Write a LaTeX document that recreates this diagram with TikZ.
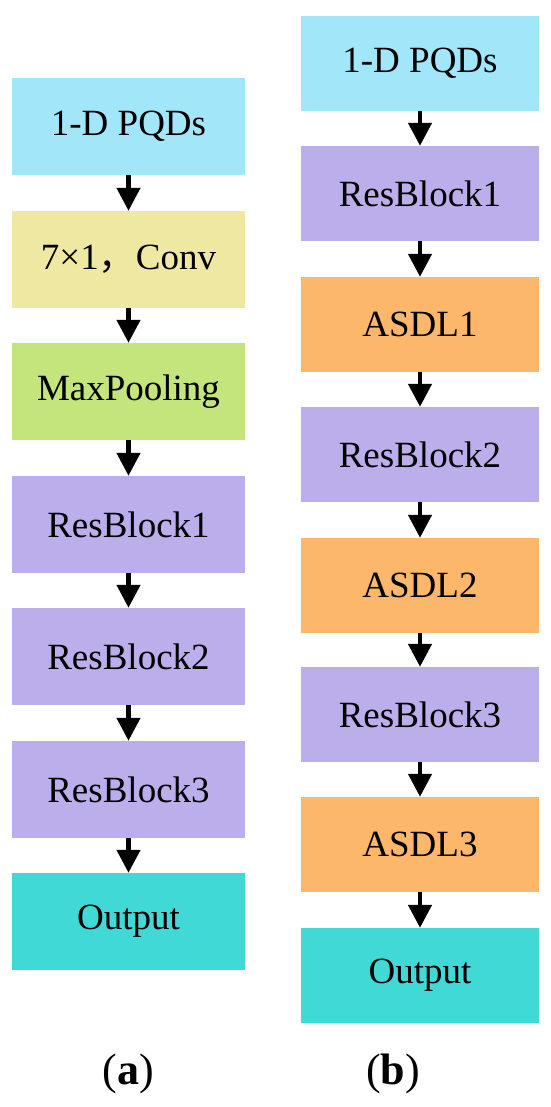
\documentclass[tikz,border=0pt]{standalone}
\usepackage{fontspec}
\setmainfont{Liberation Serif}
\newfontfamily\cjk{Noto Sans CJK SC}
\usetikzlibrary{arrows.meta}
\definecolor{cin}{HTML}{A2E6FA}
\definecolor{cconv}{HTML}{EFE8A3}
\definecolor{cpool}{HTML}{C4E57B}
\definecolor{cres}{HTML}{BBAEEB}
\definecolor{casdl}{HTML}{FDB76B}
\definecolor{cout}{HTML}{40D9D6}
\begin{document}
\begin{tikzpicture}[x=1pt,y=-1pt,
  lbox/.style={rectangle,inner sep=0pt,minimum width=233pt,minimum height=97pt,
    font=\fontsize{37}{40}\selectfont},
  rbox/.style={rectangle,inner sep=0pt,minimum width=238pt,minimum height=95pt,
    font=\fontsize{37}{40}\selectfont},
  flow/.style={-{Triangle[width=23pt,length=23pt]},line width=4.5pt,black},
  captxt/.style={font=\fontsize{44}{48}\selectfont}]
\useasboundingbox (0,0) rectangle (550,1107);
% column (a)
\node[lbox,fill=cin]   (a1) at (128.5,126.5) {1-D PQDs};
\node[lbox,fill=cconv] (a2) at (128.5,259.5) {7×1{\cjk ，}Conv};
\node[lbox,fill=cpool] (a3) at (128.5,391.5) {MaxPooling};
\node[lbox,fill=cres]  (a4) at (128.5,524.5) {ResBlock1};
\node[lbox,fill=cres]  (a5) at (128.5,656.5) {ResBlock2};
\node[lbox,fill=cres]  (a6) at (128.5,789.5) {ResBlock3};
\node[lbox,fill=cout]  (a7) at (128.5,921.5) {Output};
\foreach \i/\j in {a1/a2,a2/a3,a3/a4,a4/a5,a5/a6,a6/a7}
  \draw[flow] (\i.south) -- (\j.north);
% column (b)
\node[rbox,fill=cin]   (b1) at (420,63.5) {1-D PQDs};
\node[rbox,fill=cres]  (b2) at (420,193.5) {ResBlock1};
\node[rbox,fill=casdl] (b3) at (420,324.5) {ASDL1};
\node[rbox,fill=cres]  (b4) at (420,454.5) {ResBlock2};
\node[rbox,fill=casdl] (b5) at (420,585.5) {ASDL2};
\node[rbox,fill=cres]  (b6) at (420,714.5) {ResBlock3};
\node[rbox,fill=casdl] (b7) at (420,844.5) {ASDL3};
\node[rbox,fill=cout]  (b8) at (420,975.5) {Output};
\foreach \i/\j in {b1/b2,b2/b3,b3/b4,b4/b5,b5/b6,b6/b7,b7/b8}
  \draw[flow] (\i.south) -- (\j.north);
% captions
\node[captxt] (capa) at (128,1074) {(\textbf{a})};
\node[captxt] (capb) at (393,1074) {(\textbf{b})};
\end{tikzpicture}
\end{document}
